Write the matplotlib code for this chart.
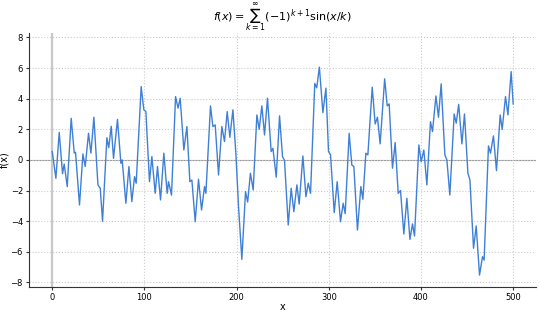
import matplotlib
matplotlib.use("Agg")
import matplotlib.pyplot as plt

x_vals = [0, 4.0, 7.6, 11.2, 13.0, 16.3, 20.6, 23.9, 25.3, 29.6, 33.3, 35.8, 39.4, 42.0,
          45.2, 49.6, 52.1, 54.6, 59.3, 61.3, 64.0, 66.5, 70.8, 74.5, 75.9, 79.9, 83.2,
          86.4, 89.3, 91.1, 96.5, 99.4, 101.6, 105.5, 108.1, 111.7, 114.2, 117.5, 121.1,
          124.7, 126.2, 129.4, 133.8, 136.5, 138.8, 142.8, 146.1, 149.3, 151.5, 155.1,
          158.7, 162.0, 165.2, 166.7, 171.7, 174.3, 176.8, 180.4, 184.0, 186.9, 189.8,
          192.7, 196.0, 199.2, 202.1, 205.7, 209.7, 212.0, 215.0, 218.0, 222.0, 224.5,
          227.4, 230.3, 233.5, 237.5, 239.4, 243.0, 246.6, 249.8, 252.0, 256.0, 259.2,
          262.1, 265.4, 267.9, 271.9, 275.2, 277.7, 280.2, 284.8, 286.9, 289.8, 293.6,
          296.9, 299.7, 301.9, 305.9, 309.1, 312.7, 315.6, 317.8, 322.1, 325.0, 327.2,
          331.1, 334.8, 337.0, 340.2, 342.4, 347.1, 350.3, 352.8, 355.7, 360.6, 363.4,
          365.5, 369.1, 372.0, 375.3, 377.8, 381.4, 384.7, 388.0, 390.8, 393.0, 397.7,
          400.2, 403.1, 406.4, 410.3, 412.5, 416.2, 419.0, 421.9, 425.9, 428.1, 431.3,
          436.0, 438.2, 440.9, 444.4, 447.2, 450.9, 453.1, 457.0, 459.9, 463.5, 466.7,
          468.5, 473.2, 475.4, 478.6, 481.9, 485.9, 488.1, 491.7, 494.3, 497.8, 500.0]
f_vals = [0.55, -1.2, 1.8, -0.9, -0.27, -1.74, 2.72, 0.45, 0.5, -2.94, 0.39, -0.43, 1.74, 0.45,
          2.79, -1.63, -1.85, -4.0, 1.45, 0.8, 2.2, 0.1, 2.65, -0.22, 0.0, -2.83, -0.43,
          -2.72, -1.09, -1.52, 4.79, 3.27, 3.16, -1.42, 0.22, -2.18, -0.43, -2.61, 0.44,
          -2.18, -1.42, -2.3, 4.14, 3.38, 4.03, 0.65, 2.18, -1.42, -1.31, -4.03,
          -1.26, -3.27, -1.74, -2.18, 3.53, 2.18, 2.29, -0.98, 2.18, 1.2, 3.16,
          1.48, 3.27, 0.44, -3.05, -6.49, -2.07, -2.75, -0.87, -1.96, 2.94, 2.0,
          3.53, 1.63, 4.03, 0.55, 0.76, -1.13, 2.88, 0.22, -0.04, -4.25, -1.85,
          -3.38, -1.63, -2.88, 0.26, -2.4, -1.52, -2.18, 5.0, 4.71, 6.06, 3.09,
          4.69, 0.55, 0.33, -3.44, -1.42, -4.03, -2.83, -3.51, 1.74, -0.33, -0.43,
          -4.58, -1.74, -2.57, 0.44, 0.33, 4.75, 2.35, 2.79, 1.05, 5.3, 3.53,
          3.66, -0.54, 1.13, -2.18, -2.0, -4.84, -2.5, -5.19, -4.18, -4.97, 0.98,
          -0.11, 0.65, -1.63, 2.5, 1.85, 4.18, 2.79, 4.97, 0.33, 0.0, -2.29,
          3.0, 2.4, 3.63, 1.05, 3.0, -0.87, -1.31, -5.77, -4.31, -7.52, -6.32,
          -6.54, 0.92, 0.44, 1.57, -0.7, 2.94, 2.0, 4.14, 2.94, 5.77, 3.66]
x_ticks = [0, 100, 200, 300, 400, 500]
y_ticks = [-8, -6, -4, -2, 0, 2, 4, 6, 8]

fig = plt.figure(figsize=(5.4, 3.13), dpi=100)
ax = fig.add_axes([0.054, 0.083, 0.939, 0.812])

ax.grid(True, linestyle=':', color='#cccccc', linewidth=0.8)
ax.axvline(0, color='#c8c8c8', linewidth=1.6, zorder=1)
ax.axhline(0, color='#999999', linewidth=0.8, zorder=1)
ax.plot(x_vals, f_vals, color='#3f80d6', linewidth=1.0, zorder=3)

ax.set_xlim(-25, 525)
ax.set_ylim(-8.3, 8.3)
ax.set_xticks(x_ticks)
ax.set_yticks(y_ticks)
ax.tick_params(labelsize=6, length=2.5, pad=2, color='#333333')
for s in ['top', 'right']:
    ax.spines[s].set_visible(False)
for s in ['left', 'bottom']:
    ax.spines[s].set_color('#333333')
    ax.spines[s].set_linewidth(0.8)

ax.set_xlabel('x', fontsize=7, labelpad=0)
ax.set_ylabel('f(x)', fontsize=7, labelpad=1)
ax.set_title(r'$f(x) = \sum_{k=1}^{\infty}(-1)^{k+1}\sin(x/k)$', fontsize=8, pad=-1)

fig.savefig('out.png', dpi=100)
